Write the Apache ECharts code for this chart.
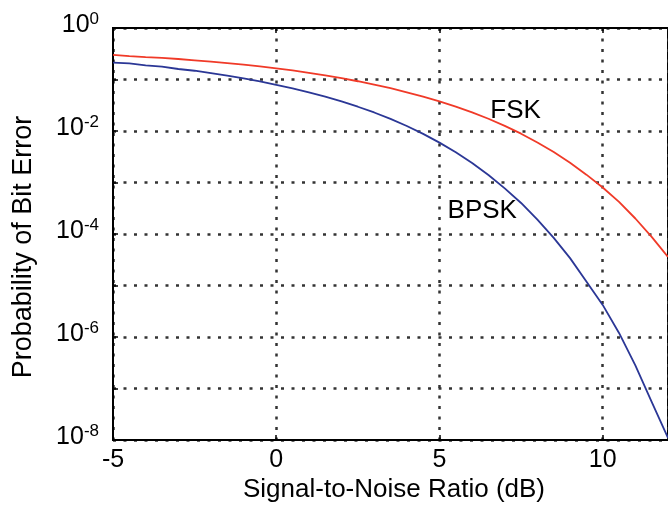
<!DOCTYPE html>
<html>
<head>
<meta charset="utf-8">
<script src="https://cdn.jsdelivr.net/npm/echarts@6/dist/echarts.min.js"></script>
<style>
html,body{margin:0;padding:0;background:#fff;}
#chart{width:668px;height:506px;}
</style>
</head>
<body>
<div id="chart"></div>
<script>
// SNR values (dB)
const snr = [-5,-4.5,-4,-3.5,-3,-2.5,-2,-1.5,-1,-0.5,0,0.5,1,1.5,2,2.5,3,3.5,4,4.5,5,5.5,6,6.5,7,7.5,8,8.5,9,9.5,10,10.5,11,11.5,12];
// Probability of bit error
const bpsk = [0.213,0.205,0.188,0.178,0.160,0.148,0.133,0.119,0.105,0.092,0.0786,0.0671,0.0563,0.0464,0.0375,0.0296,0.0229,0.0172,0.0125,0.0088,0.00595,0.00386,0.00239,0.0014,0.00077,0.0004,0.00019,0.000084,0.000034,0.000012,0.0000042,0.0000012,0.00000028,0.000000055,0.000000011];
const fsk = [0.30,0.285,0.272,0.262,0.250,0.236,0.222,0.208,0.194,0.180,0.165,0.150,0.135,0.120,0.106,0.0925,0.0795,0.0678,0.0565,0.0466,0.0377,0.0298,0.0230,0.0173,0.0126,0.00887,0.0060,0.0039,0.00242,0.00142,0.00080,0.00042,0.00020,0.000088,0.000036];
const xTicks = [-5, 0, 5, 10];
const curveLabels = [
  {name: 'FSK', coord: [7.33, 0.025]},
  {name: 'BPSK', coord: [6.31, 0.000286]}
];
const xTitle = 'Signal-to-Noise Ratio (dB)';
const yTitle = 'Probability of Bit Error';

const FONT = '"Liberation Sans", Arial, Helvetica, sans-serif';
const gridDot = {color: '#333', width: 2.5, type: [3, 7.5]};

const chart = echarts.init(document.getElementById('chart'));
chart.setOption({
  animation: false,
  backgroundColor: '#fff',
  grid: {left: 113, right: -9, top: 28, bottom: 66, show: true, borderColor: '#000', borderWidth: 2, backgroundColor: 'transparent'},
  xAxis: [{
    type: 'value', min: -5, max: 12, interval: 5,
    axisLine: {show: true, onZero: false, lineStyle: {color: '#000', width: 2}},
    axisTick: {show: true, inside: true, length: 5, lineStyle: {color: '#000', width: 1.5}},
    axisLabel: {
      show: true, color: '#000', fontFamily: FONT, fontSize: 25, margin: 8,
      showMaxLabel: false,
      formatter: v => (xTicks.indexOf(v) >= 0 ? String(v) : '')
    },
    splitLine: {show: true, lineStyle: gridDot}
  }, {
    type: 'value', min: -5, max: 12, interval: 5, position: 'top',
    axisLine: {show: true, onZero: false, lineStyle: {color: '#000', width: 2}},
    axisTick: {show: true, inside: true, length: 5, lineStyle: {color: '#000', width: 1.5}},
    axisLabel: {show: false},
    splitLine: {show: false}
  }],
  yAxis: {
    type: 'log', logBase: 10, min: 1e-8, max: 1, interval: 1,
    axisLine: {show: true, onZero: false, lineStyle: {color: '#000', width: 2}},
    axisTick: {show: true, inside: true, length: 5, lineStyle: {color: '#000', width: 1.5}},
    axisLabel: {
      show: true, color: '#000', margin: 14, padding: [0, 0, 5, 0],
      formatter: v => {
        const e = Math.round(Math.log10(v));
        if (e % 2 !== 0) return '';
        return '{b|10}{s|' + e + '}';
      },
      rich: {
        b: {fontFamily: FONT, fontSize: 25, lineHeight: 30, color: '#000'},
        s: {fontFamily: FONT, fontSize: 17, lineHeight: 17, verticalAlign: 'top', color: '#000'}
      }
    },
    splitLine: {show: true, lineStyle: gridDot}
  },
  series: [{
    name: 'FSK', type: 'line', symbol: 'none', smooth: false,
    lineStyle: {color: '#f03a28', width: 1.8},
    itemStyle: {color: '#f03a28'},
    data: snr.map((x, i) => [x, fsk[i]]),
    markPoint: {
      symbol: 'circle', symbolSize: 0, silent: true,
      label: {show: true, position: 'inside', color: '#000', fontFamily: FONT, fontSize: 26, formatter: p => p.name},
      data: [curveLabels[0]]
    }
  }, {
    name: 'BPSK', type: 'line', symbol: 'none', smooth: false,
    lineStyle: {color: '#2b3796', width: 1.8},
    itemStyle: {color: '#2b3796'},
    data: snr.map((x, i) => [x, bpsk[i]]),
    markPoint: {
      symbol: 'circle', symbolSize: 0, silent: true,
      label: {show: true, position: 'inside', color: '#000', fontFamily: FONT, fontSize: 26, formatter: p => p.name},
      data: [curveLabels[1]]
    }
  }],
  graphic: [{
    type: 'text', x: 394, y: 490,
    style: {text: xTitle, font: '26px ' + FONT, fill: '#000', align: 'center', verticalAlign: 'middle'}
  }, {
    type: 'text', x: 24, y: 247, rotation: Math.PI / 2,
    style: {text: yTitle, font: '27px ' + FONT, fill: '#000', align: 'center', verticalAlign: 'middle'}
  }]
});
</script>
</body>
</html>
